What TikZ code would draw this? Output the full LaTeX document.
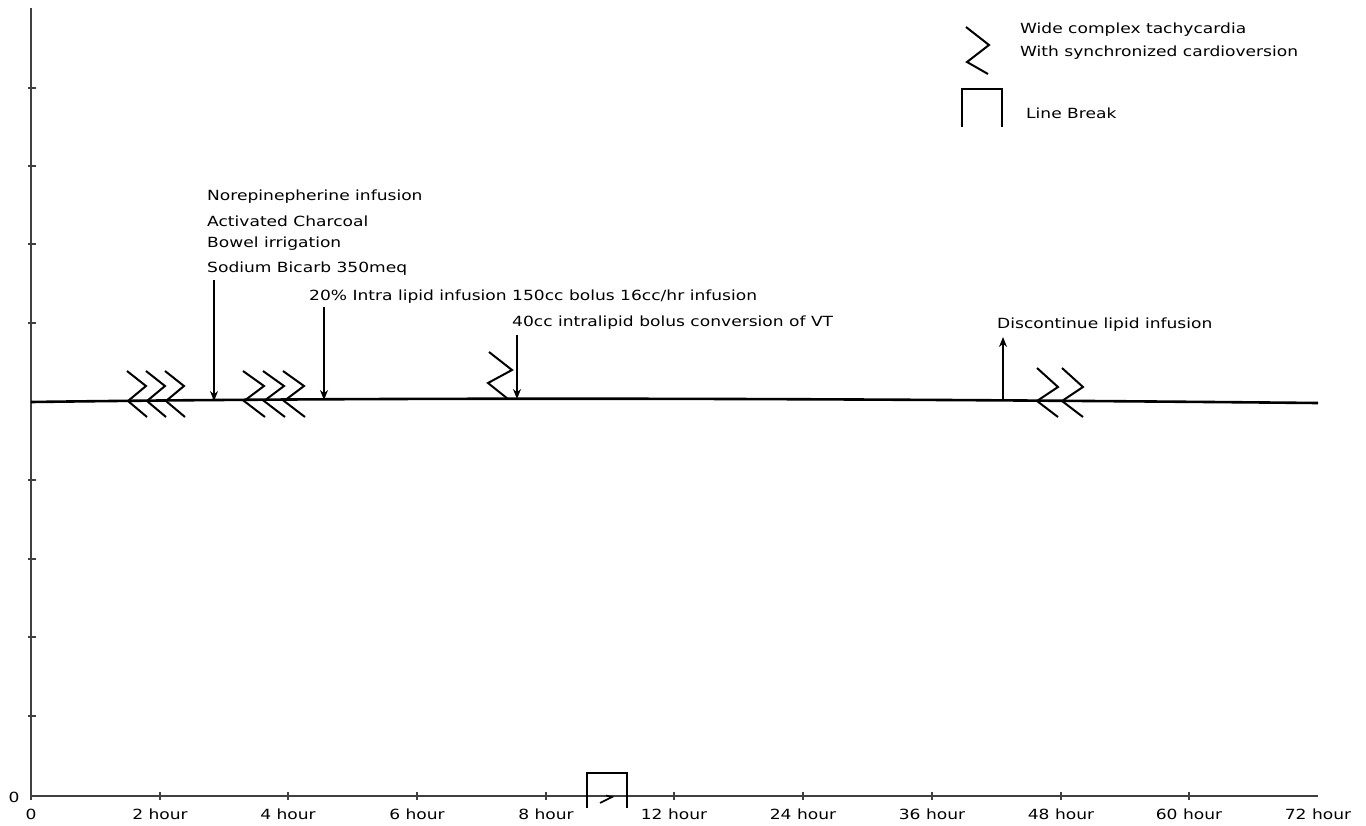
\documentclass[tikz,border=0pt]{standalone}
\usepackage{fontspec}
\setmainfont{DejaVu Sans}[FakeStretch=1.22]
\usetikzlibrary{arrows.meta}
\begin{document}
\begin{tikzpicture}[x=1pt,y=-1pt,
  axis/.style={line width=1.8pt,draw=black!75},
  tickm/.style={line width=1.1pt,draw=black!75},
  baseline/.style={line width=2.6pt},
  zig/.style={line width=2pt,line join=miter},
  evarrow/.style={line width=1.8pt,-{Stealth[length=10pt,width=8pt]}},
  lbl/.style={font=\fontsize{14}{16}\selectfont,anchor=west,inner sep=0pt},
  axlbl/.style={font=\fontsize{14}{16}\selectfont,inner sep=0pt},
  brk/.style={line width=2.4pt}]
\useasboundingbox (0,0) rectangle (1366,825);
% axes
\coordinate (O) at (31,796);
\coordinate (ytop) at (31,8);
\coordinate (xend) at (1318,796);
\draw[axis] (ytop) -- (31,800);
\draw[axis] (O) -- (xend);
\foreach \yy in {88,166,244,323,480,559,637,716} \draw[tickm] (28,\yy) -- (36,\yy);
\foreach \xx in {160,288,417,546,674,803,932,1061,1189} \draw[tickm] (\xx,792) -- (\xx,800);
\node[axlbl] (y0) at (14,797) {0};
\node[axlbl] (x0) at (31,814) {0};
\foreach \xx/\t [count=\i] in {160/2 hour,288/4 hour,417/6 hour,546/8 hour,674/12 hour,803/24 hour,932/36 hour,1061/48 hour,1189/60 hour,1318/72 hour}
  \node[axlbl] (xl\i) at (\xx,814) {\t};
% line break on x axis
\draw[brk] (587,808) -- (587,773) -- (627,773) -- (627,808);
\draw[line width=1.6pt] (600,803) -- (612,797) -- (606,795.5);
% baseline
\coordinate (bl) at (31,402);
\coordinate (br) at (1318,403);
\draw[baseline] (bl) .. controls (400,397) and (800,398) .. (br);
% zigzags group 1
\foreach \x in {128,147,166} \draw[zig] (\x-1,371) -- (\x+18,386) -- (\x,401) -- (\x+19,417);
% group 2
\foreach \x in {244,264,284} \draw[zig] (\x-1,371) -- (\x+20,386) -- (\x,401) -- (\x+21,417);
% single
\draw[zig] (489,352) -- (512,370) -- (488,383) -- (508,399);
% group 3
\foreach \x in {1037,1062} \draw[zig] (\x,368) -- (\x+21,387) -- (\x,401) -- (\x+21,417);
% texts
\node[lbl] (t1) at (207,197) {Norepinepherine infusion};
\node[lbl] (t2) at (207,221) {Activated Charcoal};
\node[lbl] (t3) at (207,244) {Bowel irrigation};
\node[lbl] (t4) at (207,269) {Sodium Bicarb 350meq};
\node[lbl] (t5) at (309,297) {20\% Intra lipid infusion 150cc bolus 16cc/hr infusion};
\node[lbl] (t6) at (512,323) {40cc intralipid bolus conversion of VT};
\node[lbl] (t7) at (997,325) {Discontinue lipid infusion};
% arrows
\coordinate (a1s) at (214,280); \coordinate (a1e) at (214,401);
\coordinate (a2s) at (324,307); \coordinate (a2e) at (324,400);
\coordinate (a3s) at (517,335); \coordinate (a3e) at (517,399);
\coordinate (a4s) at (1003,401); \coordinate (a4e) at (1003,337);
\draw[evarrow] (a1s) -- (a1e);
\draw[evarrow] (a2s) -- (a2e);
\draw[evarrow] (a3s) -- (a3e);
\draw[evarrow] (a4s) -- (a4e);
% legend
\draw[zig] (966,27) -- (989,45) -- (967,62) -- (988,74);
\node[lbl] (lg1) at (1020,30) {Wide complex tachycardia};
\node[lbl] (lg2) at (1020,53) {With synchronized cardioversion};
\draw[brk] (962,127) -- (962,89) -- (1002,89) -- (1002,127);
\node[lbl] (lg3) at (1026,113) {Line Break};
\end{tikzpicture}
\end{document}
